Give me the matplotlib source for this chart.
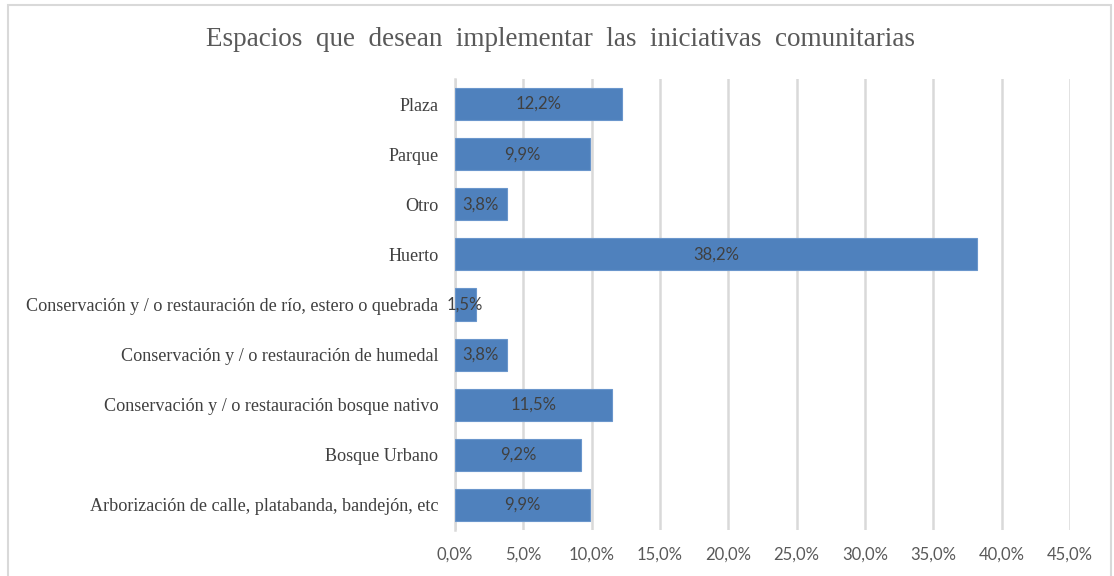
import matplotlib
matplotlib.use('Agg')
import matplotlib.pyplot as plt
from matplotlib.patches import Rectangle

categories = [
    'Plaza',
    'Parque',
    'Otro',
    'Huerto',
    'Conservación y / o restauración de río, estero o quebrada',
    'Conservación y / o restauración de humedal',
    'Conservación y / o restauración bosque nativo',
    'Bosque Urbano',
    'Arborización de calle, platabanda, bandejón, etc',
]
values = [12.2, 9.9, 3.8, 38.2, 1.5, 3.8, 11.5, 9.2, 9.9]
xticks = [0, 5, 10, 15, 20, 25, 30, 35, 40, 45]

serif = 'Liberation Serif'
sans = 'Lato'
bar_color = '#4F81BD'
grid_color = '#D9D9D9'

fig = plt.figure(figsize=(11.14, 5.76), dpi=100)
ax = fig.add_axes([455 / 1114, 46 / 576, 615 / 1114, 451 / 576])

# outer chart border
fig.patches.append(Rectangle((8 / 1114, -0.02), 1103 / 1114, 1.0 - 5 / 576 + 0.02,
                             transform=fig.transFigure, fill=False,
                             edgecolor='#D9D9D9', linewidth=1.5))

y = list(range(len(categories)))
bars = ax.barh(y, values, height=0.64, color=bar_color, edgecolor='#6A96CC',
               linewidth=0.8, zorder=3)

for yi, v in zip(y, values):
    ax.text(v / 2, yi, f'{v:.1f}%'.replace('.', ','), ha='center', va='center',
            fontsize=12, color='#404040', family=sans, zorder=4)

ax.set_xlim(0, 45)
ax.set_ylim(len(categories) - 0.5, -0.5)
ax.set_xticks(xticks)
ax.set_xticklabels([f'{t:.1f}%'.replace('.', ',') for t in xticks],
                   family=sans, fontsize=12, color='#595959')
ax.set_yticks(y)
ax.set_yticklabels(categories, family=serif, fontsize=13.1, color='#404040')
ax.tick_params(axis='both', length=0)
ax.tick_params(axis='x', pad=12)
ax.tick_params(axis='y', pad=12)

ax.grid(axis='x', color=grid_color, linewidth=1.8, zorder=0)
for s in ['top', 'right', 'bottom']:
    ax.spines[s].set_visible(False)
ax.spines['left'].set_color(grid_color)
ax.spines['left'].set_linewidth(1.8)

fig.text(560 / 1114, 1 - 40 / 576, 'Espacios  que  desean  implementar  las  iniciativas  comunitarias',
         ha='center', va='center', family=serif, fontsize=19.5, color='#595959')

plt.savefig('out.png', dpi=100)
